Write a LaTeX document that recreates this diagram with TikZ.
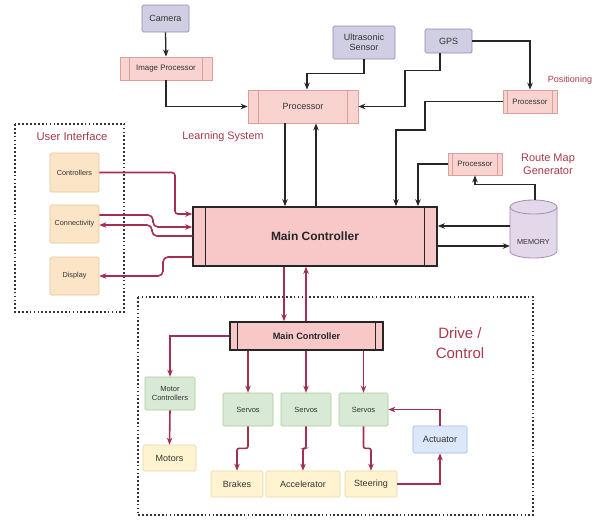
\documentclass[tikz,border=0pt]{standalone}
\usepackage{fontspec}
\setmainfont{Liberation Sans}
\usetikzlibrary{arrows.meta,calc}
\definecolor{txt}{HTML}{333333}
\definecolor{sensfill}{HTML}{D0CEE2}
\definecolor{sensdraw}{HTML}{8F8AB5}
\definecolor{procfill}{HTML}{F9D3D0}
\definecolor{procdraw}{HTML}{D9A09C}
\definecolor{mainfill}{HTML}{F8C8C8}
\definecolor{uifill}{HTML}{FCE4C6}
\definecolor{uidraw}{HTML}{E8C895}
\definecolor{grnfill}{HTML}{D8E9D5}
\definecolor{grndraw}{HTML}{A9CC98}
\definecolor{yelfill}{HTML}{FFF3D0}
\definecolor{yeldraw}{HTML}{E6D8A6}
\definecolor{blufill}{HTML}{DCE8FA}
\definecolor{bludraw}{HTML}{9FB8DE}
\definecolor{memfill}{HTML}{E3D7EA}
\definecolor{memdraw}{HTML}{A58BB5}
\definecolor{arrred}{HTML}{A3304F}
\definecolor{lblred}{HTML}{A83A4C}
\newcommand\innerlines[3]{%
  \draw[#3] ([xshift=#2]#1.north west) -- ([xshift=#2]#1.south west);
  \draw[#3] ([xshift=-#2]#1.north east) -- ([xshift=-#2]#1.south east);}
\begin{document}
\begin{tikzpicture}[x=1pt,y=1pt,
  box/.style={draw, rounded corners=1.5pt, inner sep=1pt, align=center, text=txt, line width=0.7pt},
  sensor/.style={box, fill=sensfill, draw=sensdraw, font=\fontsize{9}{10.5}\selectfont},
  procbox/.style={draw=procdraw, fill=procfill, inner sep=1pt, text=txt, line width=0.8pt, align=center},
  uibox/.style={box, fill=uifill, draw=uidraw, font=\fontsize{7.3}{9}\selectfont},
  grnbox/.style={box, fill=grnfill, draw=grndraw, font=\fontsize{7.5}{9}\selectfont},
  yelbox/.style={box, fill=yelfill, draw=yeldraw, font=\fontsize{9}{10}\selectfont},
  blubox/.style={box, fill=blufill, draw=bludraw, font=\fontsize{9.2}{10}\selectfont},
  mainbox/.style={draw=black!85, fill=mainfill, line width=1.5pt, text=black!85, font=\bfseries},
  blk/.style={draw=black!85, line width=1.3pt, -{Stealth[length=7pt,width=5.5pt]}},
  rline/.style={draw=arrred, line width=1.6pt, -{Stealth[length=7pt,width=5.5pt]}},
  lbl/.style={text=lblred, align=center},
  dotbox/.style={draw=black!80, line width=1.7pt, dash pattern=on 1.7pt off 2.2pt}
]
\fill[white] (0,0) rectangle (600,-523);
\useasboundingbox (0,0) rectangle (600,-523);

% dotted group boxes
\draw[dotbox] (15,-124) rectangle (124,-312);
\draw[dotbox] (138,-297) rectangle (533,-515);

% top sensors and processors
\node[sensor, minimum width=47, minimum height=27] (cam) at (165.5,-18.5) {Camera};
\node[procbox, minimum width=92, minimum height=23, font=\fontsize{7.9}{9}\selectfont] (imgp) at (166,-68.5) {Image Processor};
\innerlines{imgp}{10pt}{procdraw, line width=0.8pt}
\node[procbox, minimum width=110, minimum height=33, font=\fontsize{9}{10}\selectfont] (proc) at (303,-106.5) {Processor};
\innerlines{proc}{11pt}{procdraw, line width=0.8pt}
\node[sensor, minimum width=62, minimum height=33] (ultra) at (364,-42.5) {Ultrasonic\\Sensor};
\node[sensor, minimum width=47, minimum height=24] (gps) at (448.5,-41) {GPS};
\node[procbox, minimum width=54, minimum height=23, font=\fontsize{7.8}{9}\selectfont] (posp) at (530,-101.5) {Processor};
\innerlines{posp}{5pt}{procdraw, line width=0.8pt}
\node[procbox, minimum width=54, minimum height=22, font=\fontsize{7.8}{9}\selectfont] (routep) at (475,-164) {Processor};
\innerlines{routep}{5pt}{procdraw, line width=0.8pt}

% main controller
\node[mainbox, minimum width=244, minimum height=59, font=\fontsize{12}{14}\selectfont\bfseries] (main) at (315,-236.5) {Main Controller};
\innerlines{main}{13pt}{black!85, line width=1.3pt}

% memory cylinder
\node[minimum width=47, minimum height=58, inner sep=0] (mem) at (533.5,-229) {};
\fill[memfill] (510,-207) -- (510,-251) arc[start angle=180, end angle=360, x radius=23.5, y radius=7] -- (557,-207) arc[start angle=0, end angle=180, x radius=23.5, y radius=7] -- cycle;
\draw[memdraw, line width=0.8pt] (510,-207) -- (510,-251) arc[start angle=180, end angle=360, x radius=23.5, y radius=7] -- (557,-207);
\draw[memdraw, line width=0.8pt] (533.5,-207) ellipse[x radius=23.5, y radius=7];
\node[text=txt, font=\fontsize{7.3}{9}\selectfont] (memtxt) at (533.5,-242) {MEMORY};

% labels
\node[lbl, font=\fontsize{10.8}{12}\selectfont] (lls) at (223,-137) {Learning System};
\node[lbl, font=\fontsize{9}{10}\selectfont] (lpos) at (570,-80) {Positioning};
\node[lbl, font=\fontsize{11}{13}\selectfont] (lroute) at (548,-164) {Route Map\\Generator};
\node[lbl, font=\fontsize{11.3}{13}\selectfont] (lui) at (72,-136) {User Interface};
\node[lbl, font=\fontsize{15}{20}\selectfont] (ldrive) at (460,-343) {Drive /\\Control};

% UI boxes
\node[uibox, minimum width=49, minimum height=39] (ctrl) at (74.5,-172.5) {Controllers};
\node[uibox, minimum width=49, minimum height=38] (conn) at (74.5,-224) {Connectivity};
\node[uibox, minimum width=49, minimum height=38] (disp) at (74.5,-276) {Display};

% drive / control
\node[mainbox, minimum width=153, minimum height=28, font=\fontsize{9.2}{11}\selectfont\bfseries] (main2) at (306.5,-336) {Main Controller};
\innerlines{main2}{8pt}{black!85, line width=1.3pt}
\node[grnbox, minimum width=50, minimum height=33] (motc) at (170,-393.5) {Motor\\Controllers};
\node[yelbox, minimum width=53, minimum height=26] (motors) at (169.5,-458) {Motors};
\node[grnbox, minimum width=50, minimum height=33] (s1) at (248,-409.5) {Servos};
\node[grnbox, minimum width=50, minimum height=33] (s2) at (306,-409.5) {Servos};
\node[grnbox, minimum width=49, minimum height=33] (s3) at (363.5,-409.5) {Servos};
\node[yelbox, minimum width=52, minimum height=26] (brakes) at (237,-484) {Brakes};
\node[yelbox, minimum width=74, minimum height=26] (accel) at (303,-484) {Accelerator};
\node[yelbox, minimum width=52, minimum height=26] (steer) at (371,-484) {Steering};
\node[blubox, minimum width=54, minimum height=27] (act) at (440,-439.5) {Actuator};

% black connectors
\draw[blk] (cam.south) -- (imgp.north);
\draw[blk] (imgp.south) |- (proc.west);
\draw[blk] (ultra.south) -- ++(0,-14) -| ([xshift=4pt]proc.north);
\draw[blk] ([xshift=-8.5pt]gps.south) -- ++(0,-17) -| (405,-90) |- (proc.east);
\draw[blk] (gps.east) -| (posp.north);
\draw[blk] (posp.west) -| (425,-130) -| ([xshift=81pt]main.north);
\draw[blk] (routep.west) -| ([xshift=103pt]main.north);
\coordinate (p1) at ([xshift=-18pt]proc.south);
\coordinate (p2) at ([xshift=13pt]proc.south);
\draw[blk] (p1) -- (p1 |- main.north);
\draw[blk] (p2 |- main.north) -- (p2);
\draw[blk] (mem.north) ++(1.5,0) coordinate (m0) -- ++(0,15) -| (routep.south);
\draw[blk] ([yshift=10.5pt]main.east -| mem.west) -- ([yshift=10.5pt]main.east);
\draw[blk] ([yshift=-9.5pt]main.east) -- ([yshift=-9.5pt]main.east -| mem.west);

% UI connectors
\draw[rline, rounded corners=3pt] (ctrl.east) -| (175,-200) |- ([yshift=22.5pt]main.west);
\draw[rline, rounded corners=5pt] ([yshift=9pt]conn.east) -| (153,-227) -- ([yshift=9.5pt]main.west);
\draw[rline, rounded corners=5pt] ([yshift=0.5pt]main.west) -| (152,-225) -- ([yshift=-1pt]conn.east);
\draw[rline, rounded corners=5pt] ([yshift=-20.5pt]main.west) -| (163,-276) -- (disp.east);

% drive connectors
\coordinate (q1) at ([xshift=-31pt]main.south);
\coordinate (q2) at ([xshift=-9pt]main.south);
\draw[rline] (q1) -- (q1 |- main2.north);
\draw[rline] (q2 |- main2.north) -- (q2);
\draw[rline] (main2.west) -| (motc.north);
\draw[rline] (motc.south) -- (motors.north);
\draw[rline] (s1.north |- main2.south) -- (s1.north);
\draw[rline] (s2.north |- main2.south) -- (s2.north);
\draw[rline] (s3.north |- main2.south) -- (s3.north);
\draw[rline, rounded corners=2pt] (s1.south) -- ++(0,-22) -| (brakes.north);
\draw[rline, rounded corners=2pt] (s2.south) -- ++(0,-22) -| (accel.north);
\draw[rline, rounded corners=2pt] (s3.south) -- ++(0,-22) -| (steer.north);
\draw[rline] (steer.east) -| (act.south);
\draw[rline] (act.north) |- (s3.east);
\end{tikzpicture}
\end{document}
